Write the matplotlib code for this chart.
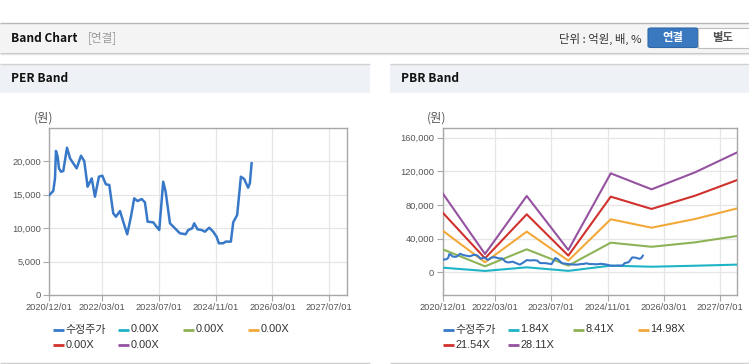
import matplotlib
matplotlib.use("Agg")
import matplotlib.pyplot as plt
from matplotlib.lines import Line2D
from matplotlib.patches import Rectangle, FancyBboxPatch
import pandas as pd

# ---------------- data ----------------
price_label = "수정주가"
price_dates = ["2020-12-01", "2021-01-04", "2021-01-19", "2021-01-27", "2021-02-11", "2021-02-22",
               "2021-03-11", "2021-03-31", "2021-04-15", "2021-05-02", "2021-05-28", "2021-06-25",
               "2021-07-24", "2021-08-30", "2021-09-27", "2021-10-26", "2021-11-09", "2021-11-30",
               "2021-12-28", "2022-01-31", "2022-03-01", "2022-04-01", "2022-04-30", "2022-06-03",
               "2022-06-26", "2022-07-31", "2022-08-28", "2022-10-01", "2022-11-02", "2022-11-30",
               "2022-12-29", "2023-02-02", "2023-03-02", "2023-03-25", "2023-05-12", "2023-06-10",
               "2023-07-03", "2023-08-06", "2023-08-27", "2023-10-03", "2023-11-15", "2023-12-27",
               "2024-02-14", "2024-03-08", "2024-04-11", "2024-04-28", "2024-05-27", "2024-07-01",
               "2024-07-29", "2024-09-04", "2024-10-08", "2024-11-06", "2024-11-26", "2025-01-02",
               "2025-01-23", "2025-03-09", "2025-03-29", "2025-05-02", "2025-06-03", "2025-07-01",
               "2025-08-04", "2025-08-19", "2025-09-03"]
price_values = [14970, 15570, 17470, 21560, 20700, 18960,
                18460, 18560, 20200, 22050, 20460, 19710,
                18960, 20850, 20060, 16210, 16710, 17460,
                14720, 17710, 17860, 16570, 16470, 12230,
                11720, 12570, 10970, 9090, 11720, 14470,
                14070, 14370, 13880, 10970, 10880, 10220,
                9730, 16960, 15460, 10730, 9980, 9240,
                9090, 9730, 9980, 10730, 9830, 9730,
                9480, 10080, 9480, 8730, 7740, 7740,
                7990, 7990, 10880, 11980, 17710, 17370,
                16060, 16720, 19720]

per_band_labels = ["0.00X", "0.00X", "0.00X", "0.00X", "0.00X"]

pbr_band_labels = ["1.84X", "8.41X", "14.98X", "21.54X", "28.11X"]
band_dates = ["2020-12-01", "2021-12-03", "2022-11-30", "2023-11-26", "2024-11-28",
              "2025-11-17", "2026-12-01", "2027-12-01"]
band_184 = [5500, 1600, 5900, 1700, 7900, 6600, 7800, 9100]
band_841 = [27300, 7100, 27300, 7900, 35200, 30300, 35600, 43200]
band_1498 = [49500, 11900, 48300, 13900, 63000, 53000, 63400, 76000]
band_2154 = [70900, 16600, 68900, 19800, 89900, 75300, 91100, 109700]
band_2811 = [93850, 21800, 90700, 26500, 117600, 98600, 118900, 142600]

x_ticks = ["2020/12/01", "2022/03/01", "2023/07/01", "2024/11/01", "2026/03/01", "2027/07/01"]
x_range = ["2020-12-01", "2027-12-01"]
per_yticks = [0, 5000, 10000, 15000, 20000]
per_ylim = [0, 25000]
pbr_yticks = [0, 40000, 80000, 120000, 160000]
pbr_ylim = [-27000, 171500]

# ---------------- style ----------------
C_PRICE = "#3878c8"
BAND_COLORS = ["#1fb3c6", "#8db356", "#f3a93a", "#d0312d", "#9552a0"]
KR = ["Noto Sans CJK KR", "DejaVu Sans"]
LAT = ["Liberation Sans", "Noto Sans CJK KR", "DejaVu Sans"]

W, H = 749, 364
fig = plt.figure(figsize=(W / 100, H / 100), dpi=100)


def fx(x):
    return x / W


def fy(y):
    return 1 - y / H


def rect(x0, y0, x1, y1, fc, ec="none", lw=0, z=0):
    fig.add_artist(Rectangle((fx(x0), fy(y1)), fx(x1) - fx(x0), fy(y0) - fy(y1),
                             transform=fig.transFigure, fc=fc, ec=ec, lw=lw, zorder=z))


def hline(x0, x1, y, color, lw=1.0, z=1):
    fig.add_artist(Line2D([fx(x0), fx(x1)], [fy(y), fy(y)], transform=fig.transFigure,
                          color=color, lw=lw, zorder=z, solid_capstyle="butt"))


# header bar
rect(0, 22.5, W, 52, "#f4f4f4")
hline(0, W, 22.5, "#b8b8b8", 1.0)
hline(0, W, 52.6, "#c4c4c4", 1.0)
hline(0, W, 53.6, "#e4e4e4", 1.0)
fig.text(fx(11), fy(38), "Band Chart", family=KR, weight="bold", fontsize=8.6,
         color="#111111", va="center", ha="left")
fig.text(fx(88), fy(38), "[연결]", family=KR, fontsize=8.4, color="#999999",
         va="center", ha="left")
fig.text(fx(642), fy(38.5), "단위 : 억원, 배, %", family=KR, fontsize=8.2, color="#333333",
         va="center", ha="right")
# buttons
fig.add_artist(FancyBboxPatch((fx(648), fy(47.5)), fx(50), fy(28) - fy(47.5),
                              boxstyle="round,pad=0,rounding_size=0.004",
                              transform=fig.transFigure, fc="#3a79c0", ec="#2e67a8", lw=0.8, zorder=2))
fig.text(fx(673), fy(38), "연결", family=KR, fontsize=8.2, weight="bold", color="white",
         va="center", ha="center", zorder=3)
rect(698, 28, 749, 47.5, "white", ec="#bdbdbd", lw=0.8, z=2)
fig.text(fx(723), fy(38), "별도", family=KR, fontsize=8.2, weight="bold", color="#555555",
         va="center", ha="center", zorder=3)

# panel headers
for (x0, x1, title) in [(0, 370, "PER Band"), (390, W, "PBR Band")]:
    rect(x0, 64, x1, 92.5, "#eef1f6")
    hline(x0, x1, 64, "#d2d2d2", 1.0)
    fig.text(fx(x0 + 11), fy(79), title, family=KR, weight="bold", fontsize=8.6,
             color="#111111", va="center", ha="left")
    hline(x0, x1, 363, "#cfcfcf", 1.0)

price_dt = pd.to_datetime(price_dates)
band_dt = pd.to_datetime(band_dates)
tick_dt = pd.to_datetime(x_ticks, format="%Y/%m/%d")
xr = pd.to_datetime(x_range)


def style_axes(ax, yticks, ylim):
    ax.set_xlim(xr[0], xr[1])
    ax.set_ylim(*ylim)
    ax.set_xticks(tick_dt)
    ax.set_xticklabels(x_ticks)
    ax.set_yticks(yticks)
    ax.set_yticklabels([f"{v:,}" for v in yticks])
    ax.grid(True, color="#e6e6e6", lw=0.9)
    ax.set_axisbelow(True)
    for s in ax.spines.values():
        s.set_color("#a8a8a8")
        s.set_linewidth(1.0)
    ax.tick_params(axis="both", length=4, width=0.8, color="#a8a8a8", labelcolor="#555555",
                   labelsize=6.7, pad=2)
    for lab in ax.get_xticklabels() + ax.get_yticklabels():
        lab.set_family(LAT)


def legend(entries, x0, row_y=(329.5, 344.5), colw=65):
    for i, (lab, col) in enumerate(entries):
        r, c = divmod(i, 4)
        x = x0 + c * colw
        y = row_y[r]
        fig.add_artist(Line2D([fx(x), fx(x + 10.5)], [fy(y), fy(y)], transform=fig.transFigure,
                              color=col, lw=2.0, solid_capstyle="butt"))
        fig.text(fx(x + 12.5), fy(y), lab, family=LAT, fontsize=7.9, color="#333333",
                 va="center", ha="left")


# PER chart
ax1 = fig.add_axes([fx(49.3), fy(295), (347 - 49.3) / W, (295 - 128) / H])
ax1.plot(price_dt, price_values, color=C_PRICE, lw=1.8, zorder=5)
for lab, col in zip(per_band_labels, BAND_COLORS):
    ax1.plot([], [], color=col, lw=1.5, label=lab)
style_axes(ax1, per_yticks, per_ylim)
fig.text(fx(44), fy(118), "(원)", family=KR, fontsize=8.8, color="#555555", ha="center", va="center")
legend([(price_label, C_PRICE)] + list(zip(per_band_labels, BAND_COLORS)), 53)

# PBR chart
ax2 = fig.add_axes([fx(442.7), fy(295), (737.3 - 442.7) / W, (295 - 128) / H])
for vals, col in zip([band_184, band_841, band_1498, band_2154, band_2811], BAND_COLORS):
    ax2.plot(band_dt, vals, color=col, lw=1.5, zorder=4)
ax2.plot(price_dt, price_values, color=C_PRICE, lw=1.5, zorder=5)
style_axes(ax2, pbr_yticks, pbr_ylim)
fig.text(fx(437), fy(118), "(원)", family=KR, fontsize=8.8, color="#555555", ha="center", va="center")
legend([(price_label, C_PRICE)] + list(zip(pbr_band_labels, BAND_COLORS)), 443)

fig.savefig("out.png", dpi=100)
